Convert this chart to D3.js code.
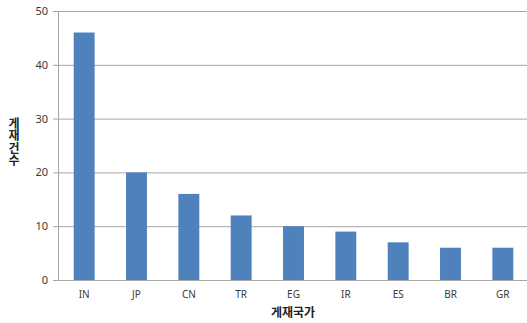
<!DOCTYPE html>
<html>
<head>
<meta charset="utf-8">
<script src="https://cdn.jsdelivr.net/npm/d3@7"></script>
<style>
  html, body { margin: 0; padding: 0; background: #fff; }
  svg { display: block; }
</style>
</head>
<body>
<svg id="chart" width="527" height="323"></svg>
<script>
// Publications by country
const countries = ["IN", "JP", "CN", "TR", "EG", "IR", "ES", "BR", "GR"];
const counts = [46, 20, 16, 12, 10, 9, 7, 6, 6];
const yTicks = [0, 10, 20, 30, 40, 50];
const xTitle = "게재국가";
const yTitle = "게재건수";

const svg = d3.select("#chart");
const plot = { left: 58, right: 529, top: 11, bottom: 280 };

const x = d3.scaleBand().domain(countries).range([plot.left, plot.right])
  .paddingInner(0.6).paddingOuter(0.3);
const y = d3.scaleLinear().domain([0, 50]).range([plot.bottom, plot.top]);

const gridColor = "#a6a6a6";
const font = "'Noto Sans', 'Noto Sans CJK KR', sans-serif";

// value axis with small ticks left of the axis line
svg.append("g")
  .attr("transform", `translate(${plot.left},0)`)
  .call(d3.axisLeft(y).tickValues(yTicks).tickSize(5).tickPadding(5))
  .call(g => g.select(".domain").attr("stroke", gridColor))
  .call(g => g.selectAll(".tick line").attr("stroke", gridColor))
  .call(g => g.selectAll(".tick text")
    .attr("fill", "#3a3a3a").attr("font-size", 11).attr("font-family", font));

// horizontal grid lines
svg.append("g")
  .selectAll("line")
  .data(yTicks.filter(d => d > 0))
  .join("line")
  .attr("x1", plot.left).attr("x2", 527)
  .attr("y1", d => y(d) + 0.5).attr("y2", d => y(d) + 0.5)
  .attr("stroke", gridColor);

// bars
svg.append("g")
  .selectAll("rect")
  .data(countries)
  .join("rect")
  .attr("x", d => x(d))
  .attr("width", x.bandwidth())
  .attr("y", (d, i) => y(counts[i]))
  .attr("height", (d, i) => y(0) - y(counts[i]))
  .attr("fill", "#4f81bd");

// category axis
svg.append("g")
  .attr("transform", `translate(0,${plot.bottom})`)
  .call(d3.axisBottom(x).tickSize(0).tickPadding(11))
  .call(g => g.select(".domain").attr("stroke", gridColor).attr("d", `M${plot.left - 5},0.5H527`))
  .call(g => g.selectAll(".tick text")
    .attr("fill", "#3a3a3a").attr("font-size", 10).attr("font-family", font));

// axis titles
svg.append("text")
  .attr("x", 293).attr("y", 317)
  .attr("text-anchor", "middle")
  .attr("font-family", "'Noto Sans CJK KR', sans-serif")
  .attr("font-weight", "bold").attr("font-size", 12)
  .attr("fill", "#222")
  .text(xTitle);

// vertical title with upright characters
svg.append("text")
  .attr("x", 14).attr("y", 117)
  .style("writing-mode", "vertical-rl")
  .style("text-orientation", "upright")
  .attr("font-family", "'Noto Sans CJK KR', sans-serif")
  .attr("font-weight", "bold").attr("font-size", 12)
  .attr("letter-spacing", 0.5)
  .attr("fill", "#222")
  .text(yTitle);
</script>
</body>
</html>
